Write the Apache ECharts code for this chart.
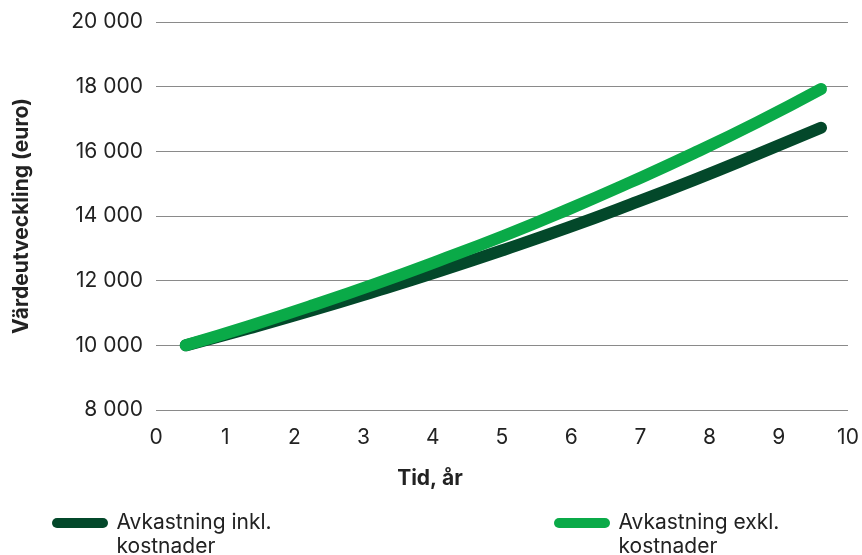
<!DOCTYPE html>
<html>
<head>
<meta charset="utf-8">
<script src="https://cdn.jsdelivr.net/npm/echarts@6/dist/echarts.min.js"></script>
<style>
  html, body { margin: 0; padding: 0; background: #fff; }
  #chart { width: 862px; height: 555px; }
</style>
</head>
<body>
<div id="chart"></div>
<script>
// x positions of the points as they sit on the 0-10 axis
var tid = [0.43, 1.35, 2.27, 3.18, 4.10, 5.02, 5.94, 6.85, 7.77, 8.69, 9.61];
var inkl = [10000, 10530, 11090, 11680, 12300, 12950, 13630, 14350, 15110, 15910, 16730];
var exkl = [10000, 10600, 11240, 11910, 12630, 13380, 14190, 15040, 15940, 16900, 17930];
var namn = ['Avkastning inkl.\nkostnader', 'Avkastning exkl.\nkostnader'];
var farger = ['#03482a', '#0aaa48'];

var font = 'Inter';

function pairs(xs, ys) {
    var out = [];
    for (var i = 0; i < xs.length; i++) {
        out.push([xs[i], ys[i]]);
    }
    return out;
}

function fmt(v) {
    return String(v).replace(/\B(?=(\d{3})+(?!\d))/g, ' ');
}

var icon = 'path://M5,0 H51 A5,5 0 0 1 51,10 H5 A5,5 0 0 1 5,0 Z';

function legend(i, left) {
    return {
        data: [namn[i]],
        left: left,
        top: 482,
        icon: icon,
        itemWidth: 57,
        itemHeight: 10,
        itemGap: 0,
        // empty first line so the icon lines up with the first text row
        formatter: function(n) { return '\n' + n; },
        textStyle: {
            fontFamily: font,
            fontSize: 21,
            color: '#222',
            lineHeight: 24,
            padding: [0, 0, 0, 3]
        }
    };
}

var chart = echarts.init(document.getElementById('chart'));
chart.setOption({
    animation: false,
    grid: { left: 156, right: 14, top: 22, bottom: 145, outerBoundsMode: 'none' },
    legend: [legend(0, 47), legend(1, 549)],
    xAxis: {
        type: 'value',
        min: 0,
        max: 10,
        interval: 1,
        name: 'Tid, år',
        nameLocation: 'middle',
        nameGap: 58,
        nameTextStyle: {
            fontFamily: font, fontSize: 21, fontWeight: 'bold', color: '#222',
            padding: [0, 144, 0, 0]
        },
        axisLine: { show: false },
        axisTick: { show: false },
        splitLine: { show: false },
        axisLabel: { fontFamily: font, fontSize: 21, color: '#222', margin: 17 }
    },
    yAxis: {
        type: 'value',
        min: 8000,
        max: 20000,
        interval: 2000,
        name: 'Värdeutveckling (euro)',
        nameLocation: 'middle',
        nameGap: 124,
        nameTextStyle: { fontFamily: font, fontSize: 21, fontWeight: 'bold', color: '#222' },
        axisLine: { show: false },
        axisTick: { show: false },
        splitLine: { lineStyle: { color: '#8a8a8a', width: 1 } },
        axisLabel: {
            fontFamily: font, fontSize: 21, color: '#222', margin: 13,
            formatter: fmt
        }
    },
    series: [
        {
            name: namn[0],
            type: 'line',
            smooth: true,
            symbol: 'none',
            color: farger[0],
            lineStyle: { width: 12, cap: 'round', join: 'round' },
            data: pairs(tid, inkl),
            z: 2
        },
        {
            name: namn[1],
            type: 'line',
            smooth: true,
            symbol: 'none',
            color: farger[1],
            lineStyle: { width: 12, cap: 'round', join: 'round' },
            data: pairs(tid, exkl),
            z: 3
        }
    ]
});
</script>
</body>
</html>
